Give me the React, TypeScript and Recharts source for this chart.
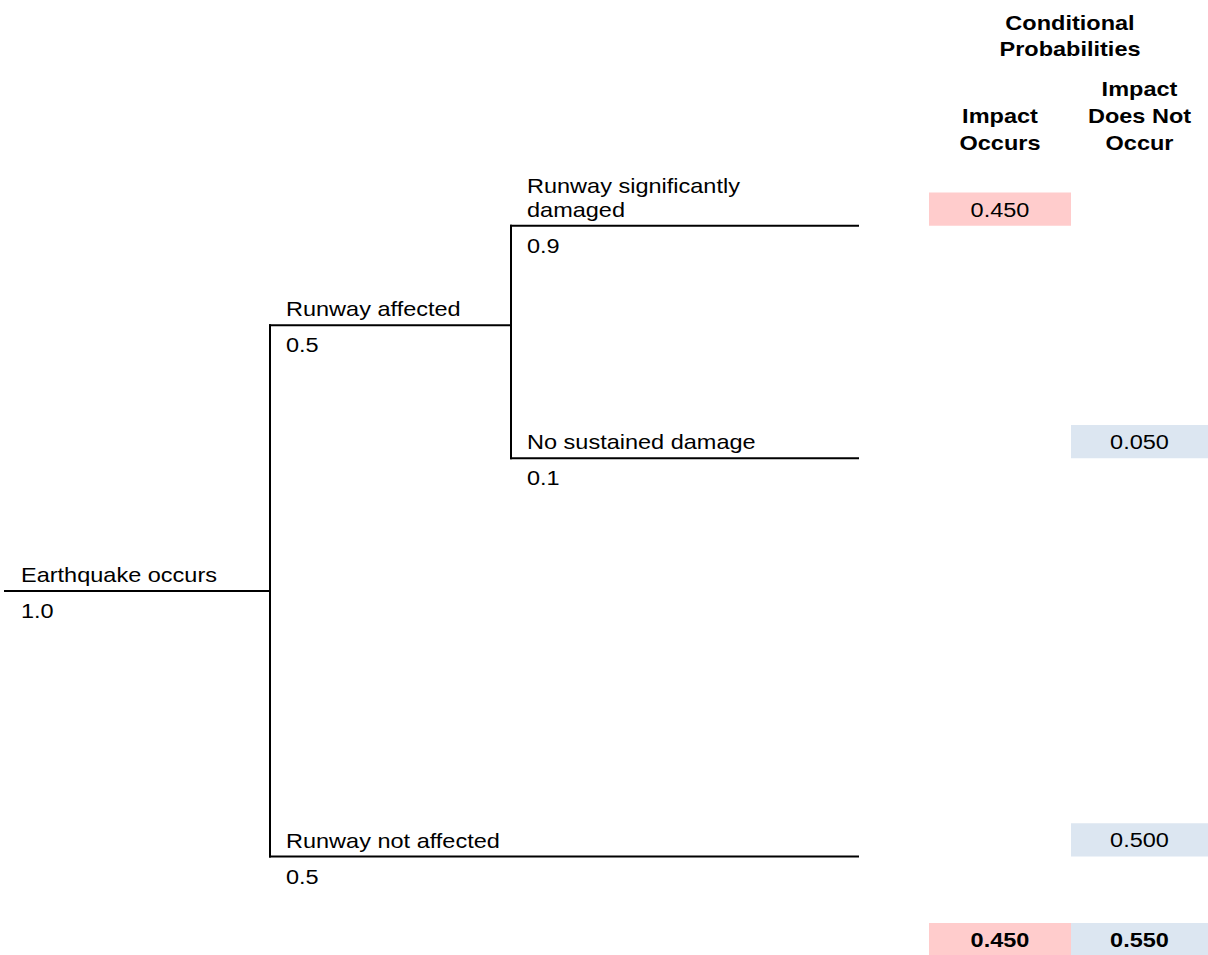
import React from "react";
import { ComposedChart, XAxis, YAxis, Scatter, ReferenceLine, ReferenceArea } from "recharts";

// tree branches, rows are spreadsheet rows (line sits on the bottom edge of the row)
const branchLabels = ["Earthquake occurs", "Runway affected", "Runway significantly\ndamaged", "No sustained damage", "Runway not affected"];
const branchProbs = [1.0, 0.5, 0.9, 0.1, 0.5];
const branchParents = [-1, 0, 1, 1, 0];
const branchRows = [18, 10, 7, 14, 26];

// conditional probabilities for each leaf
const leafBranches = [2, 3, 4];
const impactOccurs = [0.45, null, null];
const impactNotOccur = [null, 0.05, 0.5];

const headerTitle = ["Conditional", "Probabilities"];
const columnHeads = [["Impact", "Occurs"], ["Impact", "Does Not", "Occur"]];

// layout
const W = 1208;
const H = 955;
const ROW_TOP = 0.2;
const ROW_PX = 33.2;
const LEVEL_X = [5, 270, 511];
const LEAF_END = 858;
const COL_EDGES = [929, 1071, 1208];
const TOTAL_ROW = 29;
const FONT = "'Liberation Sans', Arial, sans-serif";
const FS = 21;
const SX = 1.12;
const PINK = "#FFCCCC";
const BLUE = "#DCE6F1";

const levels: number[] = [];
branchParents.forEach((p, i) => {
  levels[i] = p < 0 ? 0 : levels[p] + 1;
});
const childrenOf = (i: number) => branchParents.map((p, k) => (p === i ? k : -1)).filter((k) => k >= 0);

const horizontals = branchLabels.map((_, i) => {
  const lvl = levels[i];
  const end = childrenOf(i).length ? LEVEL_X[lvl + 1] : LEAF_END;
  return { x1: LEVEL_X[lvl], x2: end, y: branchRows[i] };
});

const verticals = branchLabels
  .map((_, i) => {
    const kids = childrenOf(i);
    if (!kids.length) return null;
    const rows = [branchRows[i], ...kids.map((k) => branchRows[k])];
    return { x: LEVEL_X[levels[i] + 1], y1: Math.min(...rows), y2: Math.max(...rows) };
  })
  .filter(Boolean) as { x: number; y1: number; y2: number }[];

const branchPoints = branchLabels.map((label, i) => ({
  x: LEVEL_X[levels[i]],
  y: branchRows[i],
  label,
  prob: branchProbs[i].toFixed(1),
}));

const colCenter = (c: number) => (COL_EDGES[c] + COL_EDGES[c + 1]) / 2;

const cells: { col: number; row: number; value: number; bold: boolean }[] = [];
leafBranches.forEach((b, i) => {
  if (impactOccurs[i] != null) cells.push({ col: 0, row: branchRows[b], value: impactOccurs[i] as number, bold: false });
  if (impactNotOccur[i] != null) cells.push({ col: 1, row: branchRows[b], value: impactNotOccur[i] as number, bold: false });
});
const sum = (arr: (number | null)[]) => arr.reduce((s: number, v) => s + (v ?? 0), 0);
cells.push({ col: 0, row: TOTAL_ROW, value: sum(impactOccurs), bold: true });
cells.push({ col: 1, row: TOTAL_ROW, value: sum(impactNotOccur), bold: true });

const cellPoints = cells.map((c) => ({ x: colCenter(c.col), y: c.row - 0.5, text: c.value.toFixed(3), bold: c.bold }));

const headerPoints = [
  { x: colCenter(0) + 70, y: 2, lines: headerTitle, lh: 26, dy: -4 },
  { x: colCenter(0), y: 5, lines: columnHeads[0], lh: 27, dy: -9 },
  { x: colCenter(1), y: 5, lines: columnHeads[1], lh: 27, dy: -9 },
];

const txt = (x: number, y: number, s: string, anchor: string, bold = false, key?: any) => (
  <text
    key={key}
    transform={`translate(${x},${y}) scale(${SX},1)`}
    textAnchor={anchor as any}
    fontFamily={FONT}
    fontSize={FS}
    fontWeight={bold ? 700 : 400}
    fill="#000"
  >
    {s}
  </text>
);

const BranchText = (props: any) => {
  const { cx, cy, payload } = props;
  const lines: string[] = payload.label.split("\n");
  return (
    <g>
      {lines.map((ln, k) => txt(cx + 16, cy - 9 - (lines.length - 1 - k) * 24, ln, "start", false, k))}
      {txt(cx + 16, cy + 27, payload.prob, "start")}
    </g>
  );
};

const CellText = (props: any) => {
  const { cx, cy, payload } = props;
  return <g>{txt(cx, cy + 7.5, payload.text, "middle", payload.bold)}</g>;
};

const HeaderText = (props: any) => {
  const { cx, cy, payload } = props;
  const n = payload.lines.length;
  return (
    <g>
      {payload.lines.map((ln: string, k: number) => txt(cx, cy + payload.dy - (n - 1 - k) * payload.lh, ln, "middle", true, k))}
    </g>
  );
};

export default function App() {
  return (
    <div style={{ position: "absolute", left: 0, top: 0, width: W, height: H, background: "#fff" }}>
      <ComposedChart width={W} height={H} margin={{ top: 0, right: 0, bottom: 0, left: 0 }}>
        <XAxis type="number" dataKey="x" domain={[0, W]} hide />
        <YAxis type="number" dataKey="y" domain={[ROW_TOP, ROW_TOP + H / ROW_PX]} reversed hide />
        {cells.map((c, i) => (
          <ReferenceArea
            key={`cell-${i}`}
            x1={COL_EDGES[c.col]}
            x2={COL_EDGES[c.col + 1]}
            y1={c.row - 1}
            y2={c.row}
            fill={c.col === 0 ? PINK : BLUE}
            fillOpacity={1}
            stroke="none"
            ifOverflow="visible"
          />
        ))}
        {horizontals.map((h, i) => (
          <ReferenceLine
            key={`h-${i}`}
            segment={[{ x: h.x1, y: h.y }, { x: h.x2, y: h.y }]}
            stroke="#000"
            strokeWidth={2}
            strokeLinecap="square"
            ifOverflow="visible"
          />
        ))}
        {verticals.map((v, i) => (
          <ReferenceLine
            key={`v-${i}`}
            segment={[{ x: v.x, y: v.y1 }, { x: v.x, y: v.y2 }]}
            stroke="#000"
            strokeWidth={2}
            strokeLinecap="square"
            ifOverflow="visible"
          />
        ))}
        <Scatter data={branchPoints} dataKey="y" shape={BranchText} isAnimationActive={false} />
        <Scatter data={cellPoints} dataKey="y" shape={CellText} isAnimationActive={false} />
        <Scatter data={headerPoints} dataKey="y" shape={HeaderText} isAnimationActive={false} />
      </ComposedChart>
    </div>
  );
}
